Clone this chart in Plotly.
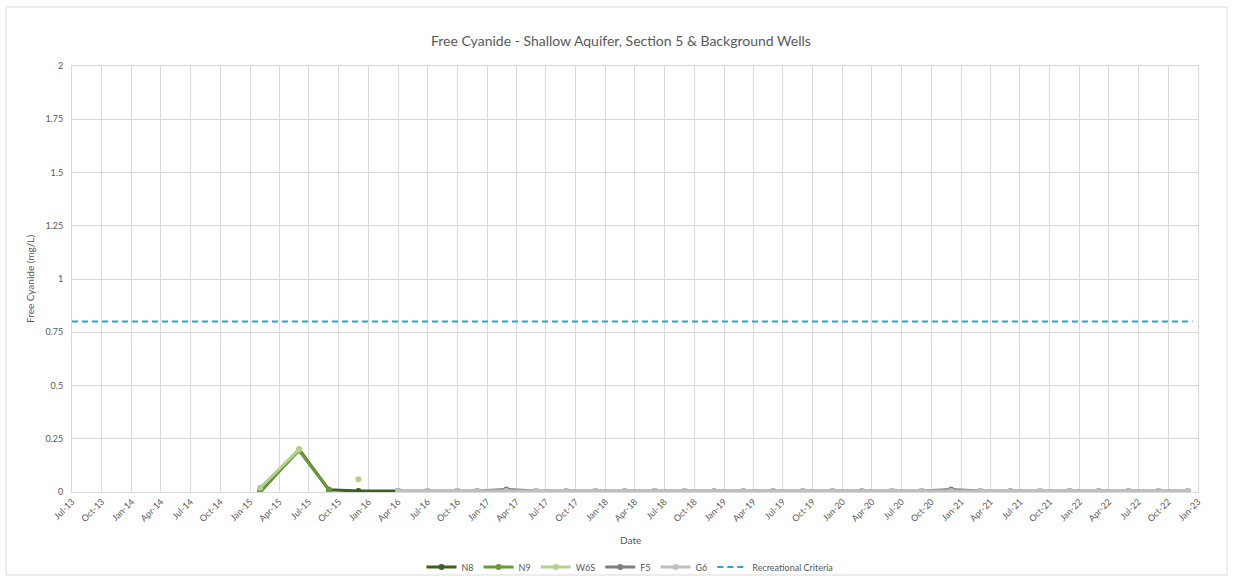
import plotly.graph_objects as go

# Sampling dates and free cyanide results (mg/L) per well
n8_dates = ["2015-02-01", "2015-06-01", "2015-09-01", "2015-12-01", "2016-04-01"]
n8_values = [0.0, 0.2, 0.01, 0.005, 0.005]

n9_dates = ["2015-02-01", "2015-06-01", "2015-09-01"]
n9_values = [0.005, 0.195, 0.01]

w6s_dates = ["2015-02-01", "2015-06-01", "2015-09-01", "2015-12-01"]
w6s_values = [0.02, 0.2, None, 0.06]

grey_dates = [
    "2016-04-01", "2016-07-01", "2016-10-01", "2016-12-01",
    "2017-03-01", "2017-06-01", "2017-09-01", "2017-12-01",
    "2018-03-01", "2018-06-01", "2018-09-01", "2018-12-01",
    "2019-03-01", "2019-06-01", "2019-09-01", "2019-12-01",
    "2020-03-01", "2020-06-01", "2020-09-01", "2020-12-01",
    "2021-03-01", "2021-06-01", "2021-09-01", "2021-12-01",
    "2022-03-01", "2022-06-01", "2022-09-01", "2022-12-01",
]
f5_values = [0.005, 0.005, 0.005, 0.005,
             0.012, 0.005, 0.005, 0.005,
             0.005, 0.005, 0.005, 0.005,
             0.005, 0.005, 0.005, 0.005,
             0.005, 0.005, 0.005, 0.012,
             0.005, 0.005, 0.005, 0.005,
             0.005, 0.005, 0.005, 0.005]
g6_values = [0.005, 0.005, 0.005, 0.005,
             0.005, 0.005, 0.005, 0.005,
             0.005, 0.005, 0.005, 0.005,
             0.005, 0.005, 0.005, 0.005,
             0.005, 0.005, 0.005, 0.005,
             0.005, 0.005, 0.005, 0.005,
             0.005, 0.005, 0.005, 0.005]

criteria_dates = ["2013-07-01", "2022-12-15"]
criteria_values = [0.8, 0.8]

y_ticks = [0, 0.25, 0.5, 0.75, 1, 1.25, 1.5, 1.75, 2]

FONT = "Lato, 'Open Sans', sans-serif"
TXT = "#595959"
GRID = "#d9d9d9"

fig = go.Figure()


def well(name, dates, values, color):
    fig.add_trace(go.Scatter(
        x=dates, y=values, name=name, mode="lines+markers",
        line=dict(color=color, width=3),
        marker=dict(color=color, size=6),
        connectgaps=False,
    ))


well("N8", n8_dates, n8_values, "#3f5f1f")
well("N9", n9_dates, n9_values, "#6a9a38")
well("W6S", w6s_dates, w6s_values, "#b2d18a")
well("F5", grey_dates, f5_values, "#7f7f7f")
well("G6", grey_dates, g6_values, "#bfbfbf")

fig.add_trace(go.Scatter(
    x=criteria_dates, y=criteria_values, name="Recreational Criteria",
    mode="lines", line=dict(color="#22a7d8", width=2, dash="6px,4px"),
))

fig.update_layout(
    width=1233, height=582,
    margin=dict(l=72, r=35, t=66, b=90, autoexpand=False),
    paper_bgcolor="white", plot_bgcolor="white",
    font=dict(family=FONT, color=TXT, size=9),
    showlegend=True,
    legend=dict(
        orientation="h", xref="container", yref="container",
        x=630 / 1233, xanchor="center", y=1 - 567 / 582, yanchor="middle",
        font=dict(size=9, color=TXT), itemwidth=30,
        bgcolor="rgba(0,0,0,0)",
    ),
    xaxis=dict(
        type="date", range=["2013-07-01", "2023-01-01"],
        tick0="2013-07-01", dtick="M3", tickformat="%b-%y",
        tickangle=-45, tickfont=dict(size=9, color=TXT),
        showgrid=True, gridcolor=GRID, gridwidth=1,
        showline=True, linecolor=GRID, mirror=True,
        ticks="", zeroline=False,
    ),
    yaxis=dict(
        range=[0, 2], tickvals=y_ticks,
        tickfont=dict(size=9, color=TXT), ticklabelstandoff=6,
        showgrid=True, gridcolor=GRID, gridwidth=1,
        showline=True, linecolor=GRID, mirror=True,
        ticks="", zeroline=False,
    ),
    annotations=[
        dict(text="Free Cyanide - Shallow Aquifer, Section 5 & Background Wells",
             xref="paper", yref="paper", x=0.4876, y=(492 - 40) / 426,
             xanchor="center", yanchor="middle", showarrow=False,
             font=dict(size=14, color=TXT, family=FONT)),
        dict(text="Date", xref="paper", yref="paper",
             x=(630 - 72) / 1126, y=(492 - 540) / 426,
             xanchor="center", yanchor="middle", showarrow=False,
             font=dict(size=10, color=TXT, family=FONT)),
        dict(text="Free Cyanide (mg/L)", xref="paper", yref="paper",
             x=(30 - 72) / 1126, y=(492 - 279) / 426, textangle=-90,
             xanchor="center", yanchor="middle", showarrow=False,
             font=dict(size=10, color=TXT, family=FONT)),
    ],
    shapes=[
        dict(type="rect", xref="paper", yref="paper",
             x0=(6 - 72) / 1126, x1=(1227 - 72) / 1126,
             y0=(492 - 575) / 426, y1=(492 - 7) / 426,
             line=dict(color="#d9d9d9", width=1), fillcolor="rgba(0,0,0,0)",
             layer="below"),
    ],
)

fig.write_html("out.html")
